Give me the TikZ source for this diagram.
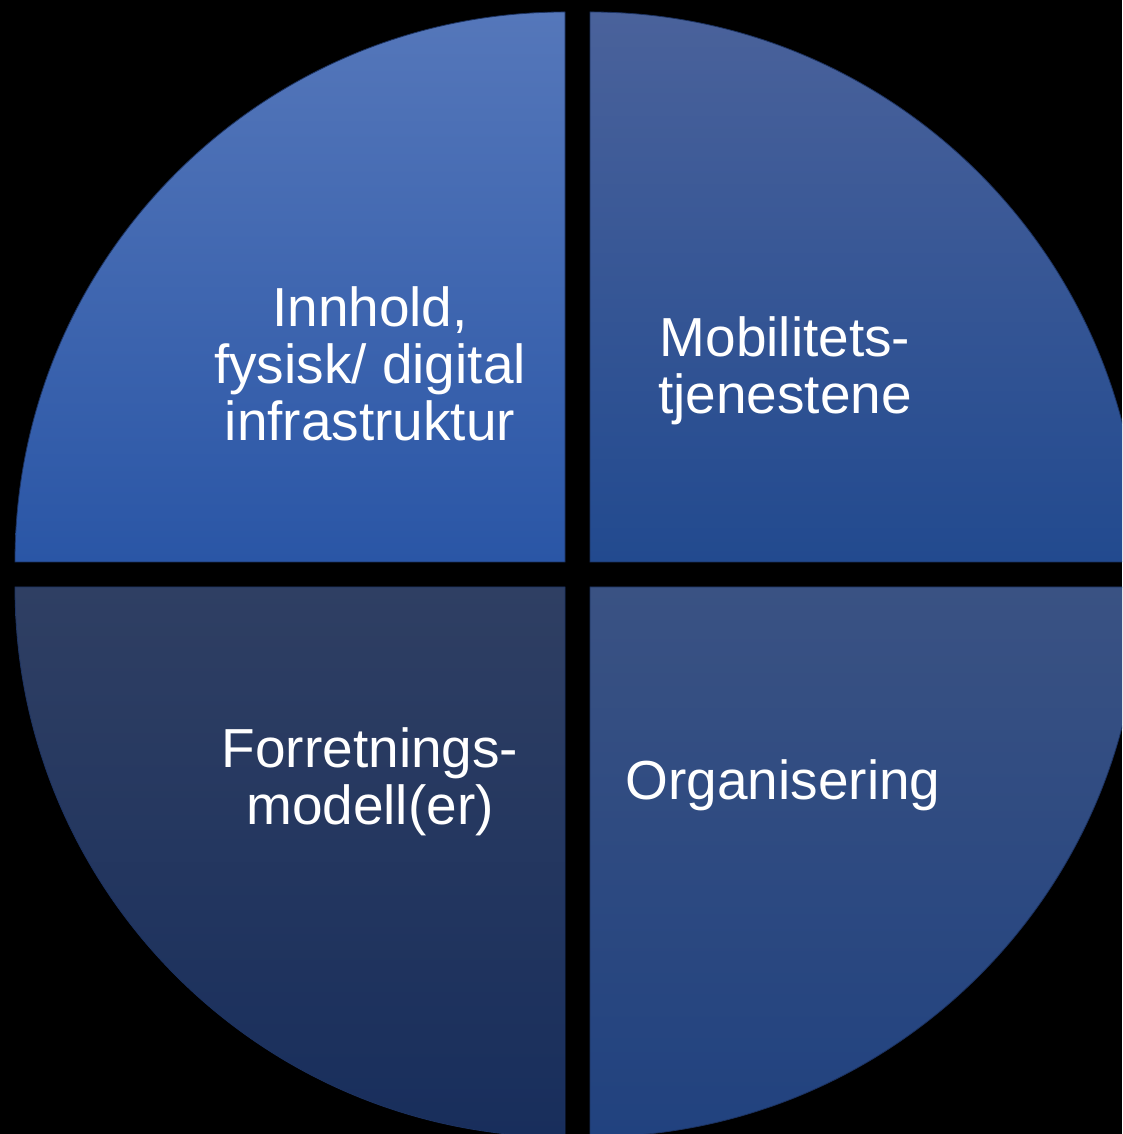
\documentclass[tikz,border=0pt]{standalone}
\usepackage{fontspec}
\setmainfont{Liberation Sans}
\definecolor{tlTop}{HTML}{5577BA}
\definecolor{tlBot}{HTML}{2A56A6}
\definecolor{trTop}{HTML}{4A629B}
\definecolor{trBot}{HTML}{224A8F}
\definecolor{blTop}{HTML}{2F3F63}
\definecolor{blBot}{HTML}{182E5C}
\definecolor{brTop}{HTML}{3A5283}
\definecolor{brBot}{HTML}{21427F}
\definecolor{edge}{HTML}{1C3260}
\tikzset{
  quad/.style={draw=edge, line width=0.8pt},
  lbl/.style={text=white, align=center, anchor=base, inner sep=0pt,
    font=\fontsize{55}{57}\selectfont}
}
\begin{document}
\begin{tikzpicture}[x=1pt,y=1pt]
\fill[black] (0,0) rectangle (1122,1134);
\useasboundingbox (0,0) rectangle (1122,1134);
\clip (0,0) rectangle (1122,1134);
% top-left
\path[quad, top color=tlTop, bottom color=tlBot]
  (565,572) -- (15,572) arc[start angle=180, end angle=90, radius=550] -- cycle;
% top-right
\path[quad, top color=trTop, bottom color=trBot]
  (590,572) -- (590,1122) arc[start angle=90, end angle=0, radius=550] -- cycle;
% bottom-left
\path[quad, top color=blTop, bottom color=blBot]
  (565,547) -- (565,-3) arc[start angle=270, end angle=180, radius=550] -- cycle;
% bottom-right
\path[quad, top color=brTop, bottom color=brBot]
  (590,547) -- (1140,547) arc[start angle=0, end angle=-90, radius=550] -- cycle;
\node[lbl] (innhold) at (370,693) {Innhold,\\fysisk/ digital\\infrastruktur};
\node[lbl] (mobil) at (785,720) {Mobilitets-\\tjenestene};
\node[lbl] (forr) at (370,309) {Forretnings-\\modell(er)};
\node[lbl] (org) at (783,334) {Organisering};
\end{tikzpicture}
\end{document}
